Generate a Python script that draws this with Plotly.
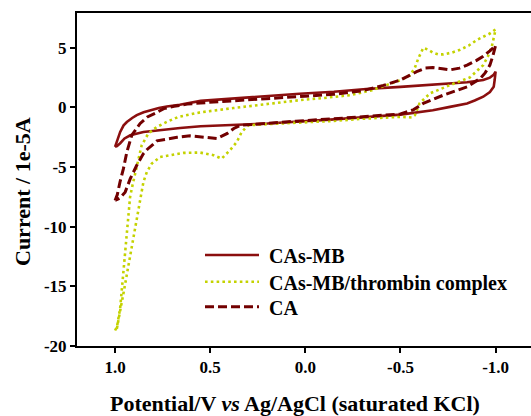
import plotly.graph_objects as go

# Cyclic voltammograms: potential (V vs Ag/AgCl) and current (1e-5 A),
# each loop traced from the +1.0 V vertex, out to -1.0 V and back.
cas_mb_potential = [1.0, 0.985, 0.973, 0.955, 0.938, 0.91, 0.886, 0.85, 0.816, 0.77, 0.728,
                    0.66, 0.55, 0.378, 0.2, 0.03, -0.15, -0.32, -0.5, -0.67, -0.85, -0.935,
                    -0.97, -0.99, -1.0,
                    -0.995, -0.99, -0.97, -0.935, -0.89, -0.85, -0.76, -0.67, -0.5, -0.3,
                    -0.15, 0.2, 0.55, 0.658, 0.728, 0.815, 0.851, 0.92, 0.95, 0.973, 0.99, 1.0]
cas_mb_current = [-3.3, -2.7, -2.05, -1.5, -1.22, -0.88, -0.64, -0.4, -0.22, -0.04, 0.08,
                  0.22, 0.55, 0.76, 0.95, 1.15, 1.32, 1.55, 1.73, 1.9, 2.12, 2.3,
                  2.5, 2.75, 3.0,
                  2.3, 1.73, 1.3, 0.9, 0.58, 0.34, 0.05, -0.23, -0.6, -0.85,
                  -1.0, -1.35, -1.57, -1.72, -1.82, -1.95, -2.05, -2.33, -2.6, -3.0, -3.25, -3.3]

thrombin_potential = [1.0, 0.99, 0.973, 0.965, 0.956, 0.947, 0.938, 0.93, 0.921, 0.908, 0.895,
                      0.877, 0.86, 0.825, 0.78, 0.728, 0.667, 0.64, 0.55, 0.378, 0.2, 0.03,
                      -0.1, -0.235, -0.35, -0.41, -0.5, -0.55, -0.575, -0.594, -0.62, -0.645,
                      -0.67, -0.7, -0.725, -0.77, -0.81, -0.86, -0.9, -0.97, -1.0,
                      -0.98, -0.96, -0.935, -0.865, -0.76, -0.655, -0.6, -0.576, -0.56, -0.5,
                      -0.3, -0.15, 0.2, 0.3, 0.334, 0.36, 0.396, 0.44, 0.483, 0.553, 0.64,
                      0.702, 0.763, 0.807, 0.833, 0.851, 0.868, 0.886, 0.904, 0.921, 0.938,
                      0.956, 0.975, 0.99, 1.0]
thrombin_current = [-18.7, -18.4, -16.8, -15.4, -13.7, -11.7, -10.3, -8.9, -7.5, -6.5, -5.6,
                    -4.29, -3.17, -2.18, -1.63, -1.21, -0.79, -0.7, -0.4, -0.05, 0.3, 0.61,
                    0.8, 1.03, 1.45, 1.79, 2.29, 2.71, 3.3, 4.12, 5.0, 4.85,
                    4.6, 4.45, 4.45, 4.6, 4.81, 5.2, 5.65, 6.2, 6.55,
                    5.1, 4.3, 3.55, 2.52, 1.87, 1.18, 0.34, -0.65, -0.84, -0.79,
                    -0.95, -1.13, -1.4, -1.49, -2.05, -2.89, -3.59, -4.29, -4.0, -3.78, -3.81,
                    -3.95, -4.15, -4.7, -5.41, -6.25, -7.8, -9.2, -10.9, -12.55, -14.2,
                    -15.6, -17.2, -18.5, -18.7]

ca_potential = [1.0, 0.988, 0.974, 0.956, 0.938, 0.912, 0.868, 0.83, 0.79, 0.744, 0.69,
                0.62, 0.55, 0.378, 0.2, 0.03, -0.15, -0.3, -0.41, -0.5, -0.585, -0.63,
                -0.67, -0.72, -0.76, -0.81, -0.85, -0.9, -0.935, -0.97, -1.0,
                -0.985, -0.97, -0.945, -0.92, -0.85, -0.725, -0.62, -0.567, -0.5, -0.3,
                -0.15, 0.05, 0.2, 0.29, 0.343, 0.376, 0.41, 0.464, 0.534, 0.606, 0.674,
                0.72, 0.78, 0.8, 0.83, 0.851, 0.886, 0.92, 0.947, 0.975, 1.0]
ca_current = [-7.8, -7.3, -6.25, -5.13, -3.73, -2.33, -1.34, -0.8, -0.5, -0.1, 0.1,
              0.28, 0.38, 0.55, 0.75, 0.95, 1.1, 1.4, 1.85, 2.3, 3.0, 3.3,
              3.35, 3.25, 3.15, 3.3, 3.55, 3.95, 4.3, 4.75, 5.2,
              4.3, 3.55, 2.9, 2.44, 1.73, 1.03, 0.34, -0.2, -0.55, -0.8,
              -0.95, -1.15, -1.3, -1.45, -1.5, -1.76, -2.18, -2.6, -2.5, -2.38, -2.5,
              -2.65, -2.8, -3.1, -3.5, -3.87, -4.85, -5.97, -7.1, -7.6, -7.8]

x_tick_values = [1.0, 0.5, 0.0, -0.5, -1.0]
x_tick_labels = ["1.0", "0.5", "0.0", "-0.5", "-1.0"]
y_tick_values = [-20, -15, -10, -5, 0, 5]
y_tick_labels = ["-20", "-15", "-10", "-5", "0", "5"]

SERIF = "Liberation Serif"
NBSP = "\u00a0"

fig = go.Figure()
fig.add_trace(go.Scatter(x=cas_mb_potential, y=cas_mb_current, mode="lines",
                         name=NBSP + "CAs-MB", legend="legend",
                         line=dict(color="#8b0f0f", width=2.6)))
fig.add_trace(go.Scatter(x=thrombin_potential, y=thrombin_current, mode="lines",
                         name=NBSP + "CAs-MB/thrombin complex", legend="legend2",
                         line=dict(color="#c4d200", width=2.6, dash="2.6px,3.2px")))
fig.add_trace(go.Scatter(x=ca_potential, y=ca_current, mode="lines",
                         name=NBSP + "CA", legend="legend3",
                         line=dict(color="#720000", width=3, dash="9px,4px")))

axis_common = dict(showline=True, linecolor="black", linewidth=2, ticks="outside",
                   ticklen=5, tickwidth=2, tickcolor="black", showgrid=False,
                   zeroline=False,
                   tickfont=dict(family=SERIF, size=17, color="black", weight="bold"))

fig.update_xaxes(range=[1.2, -1.186], tickvals=x_tick_values, ticktext=x_tick_labels,
                 mirror=True, **axis_common)
fig.update_yaxes(range=[-20, 7.92], tickvals=y_tick_values, ticktext=y_tick_labels,
                 mirror=False, **axis_common)

fig.add_annotation(text="<b>Potential/V <i>vs</i> Ag/AgCl (saturated KCl)</b>",
                   xref="paper", yref="paper", x=(295 - 77) / 454, y=-(403 - 346) / 333,
                   xanchor="center", yanchor="middle", showarrow=False,
                   font=dict(family=SERIF, size=22, color="black"))
fig.add_annotation(text="<b>Current / 1e-5A</b>", textangle=-90,
                   xref="paper", yref="paper", x=-(77 - 22) / 454, y=(346 - 192) / 333,
                   xanchor="center", yanchor="middle", showarrow=False,
                   font=dict(family=SERIF, size=22, color="black"))


def legend_row(row_y):
    # one legend box per entry so each row sits at its own height
    return dict(x=(200 - 77) / 454, y=(346 - row_y) / 333, xanchor="left",
                yanchor="middle", bgcolor="rgba(0,0,0,0)", itemwidth=54,
                font=dict(family=SERIF, size=20, color="black", weight="bold"))


fig.update_layout(
    width=531, height=416,
    margin=dict(l=77, r=0, t=13, b=70),
    paper_bgcolor="white", plot_bgcolor="white",
    showlegend=True,
    legend=legend_row(255),
    legend2=legend_row(281.7),
    legend3=legend_row(306.7),
)

fig.write_html("out.html")
